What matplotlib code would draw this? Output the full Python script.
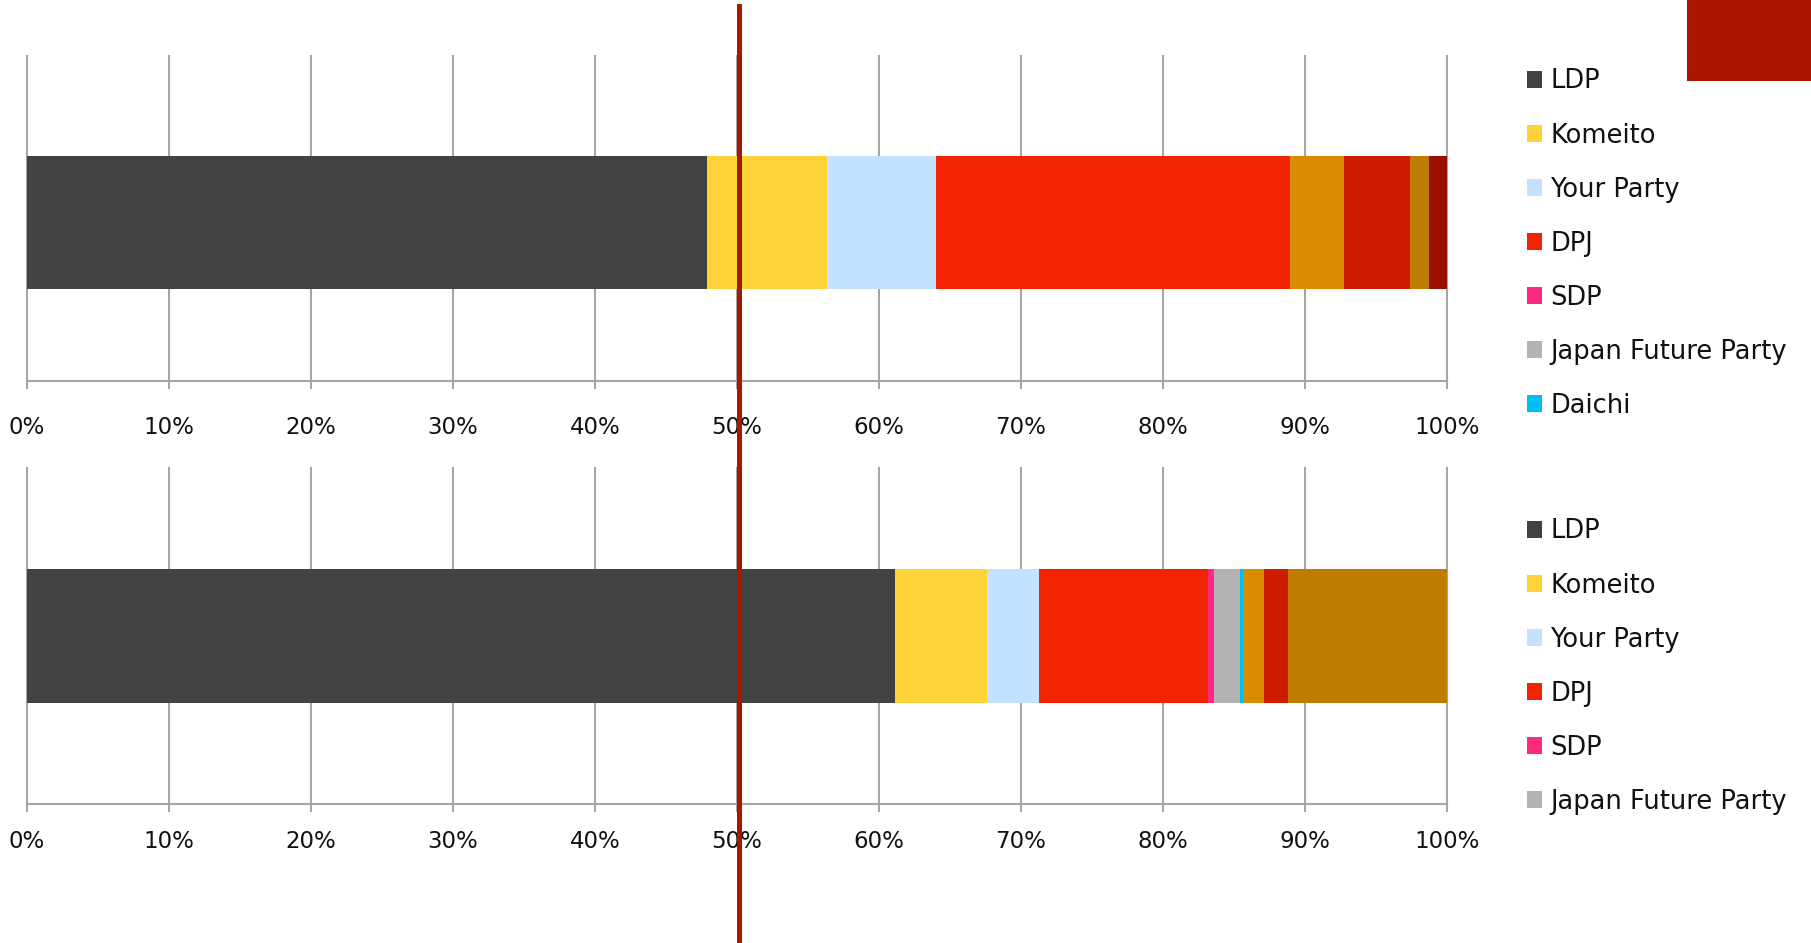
import matplotlib.pyplot as plt
from matplotlib.patches import Patch, Rectangle
from matplotlib.lines import Line2D

# ==========================
# Data (share of seats, %)
# ==========================

parties = ['LDP', 'Komeito', 'Your Party', 'DPJ', 'SDP', 'Japan Future Party',
           'Daichi', 'Other A', 'Other B', 'Other C', 'Other D']
colors = ['#424242', '#FDD338', '#C4E2FF', '#F22300', '#FF2A7F', '#B3B3B3',
          '#00BDF2', '#DA8C00', '#CD1C00', '#BE7C00', '#9A1000']

top_values = [47.89, 8.45, 7.67, 24.93, 0.0, 0.0, 0.0, 3.81, 4.64, 1.34, 1.27]
bottom_values = [61.13, 6.48, 3.66, 11.90, 0.42, 1.83, 0.24, 1.45, 1.69, 11.20, 0.0]

top_legend_count = 7
bottom_legend_count = 6

tick_values = list(range(0, 101, 10))
tick_labels = [f'{v}%' for v in tick_values]

# ==========================
# Styling
# ==========================

W, H = 1811, 943
GRID_COLOR = '#A6A6A6'
LINE_RED = '#AB1600'
FONT = 'DejaVu Sans'
TICK_SIZE = 16.5
LEGEND_SIZE = 18.5

plt.rcParams['font.family'] = [FONT]


def px(x, y):
    """Pixel coords (from top-left) to figure fraction."""
    return x / W, 1 - y / H


def draw_bar(ax, values, bar_y, bar_h, legend_n, legend_top, label_pad):
    left = 0
    handles = []
    for name, val, col in zip(parties, values, colors):
        ax.barh(bar_y, val, left=left, height=bar_h, color=col, linewidth=0, zorder=3)
        handles.append(Patch(facecolor=col, edgecolor='none', label=name))
        left += val

    ax.set_xlim(0, 100)
    ax.set_ylim(0, 1)
    ax.set_yticks([])
    ax.set_xticks(tick_values)
    ax.set_xticklabels(tick_labels, fontsize=TICK_SIZE, color='#111111')
    ax.tick_params(axis='x', length=6, width=1.5, color=GRID_COLOR, pad=label_pad)
    ax.grid(axis='x', color=GRID_COLOR, linewidth=1.5, zorder=0)
    for gl in ax.get_xgridlines():
        gl.set_clip_on(False)
    for side in ['top', 'right', 'left']:
        ax.spines[side].set_visible(False)
    ax.spines['bottom'].set_color(GRID_COLOR)
    ax.spines['bottom'].set_linewidth(1.5)
    ax.set_axisbelow(True)

    leg = ax.legend(handles=handles[:legend_n], loc='upper left',
                    bbox_to_anchor=px(1527, legend_top),
                    bbox_transform=ax.figure.transFigure,
                    frameon=False, fontsize=LEGEND_SIZE,
                    handlelength=0.6, handleheight=0.6, handletextpad=0.3,
                    labelspacing=1.09, borderpad=0, borderaxespad=0)
    for t in leg.get_texts():
        t.set_color('#111111')


fig = plt.figure(figsize=(W / 100, H / 100), dpi=100)

# axes rectangles measured in pixels
ax_top = fig.add_axes([27 / W, 1 - 381 / H, 1420 / W, 325 / H])
ax_bot = fig.add_axes([27 / W, 1 - 804 / H, 1420 / W, 336 / H])

draw_bar(ax_top, top_values, 0.4875, 0.409, top_legend_count, 68.5, 19)
draw_bar(ax_bot, bottom_values, 0.50, 0.399, bottom_legend_count, 518.5, 13)

# red marker line at the 50% mark across the whole slide
fig.add_artist(Line2D([738.5 / W, 738.5 / W], [1 - 6 / H, 0], color=LINE_RED,
                      linewidth=3.6, zorder=10))

# decorative block in the top-right corner
fig.add_artist(Rectangle(px(1687, 81), (W - 1687) / W, 81 / H,
                         facecolor=LINE_RED, edgecolor='none', zorder=10))

fig.savefig('out.png', dpi=100)
